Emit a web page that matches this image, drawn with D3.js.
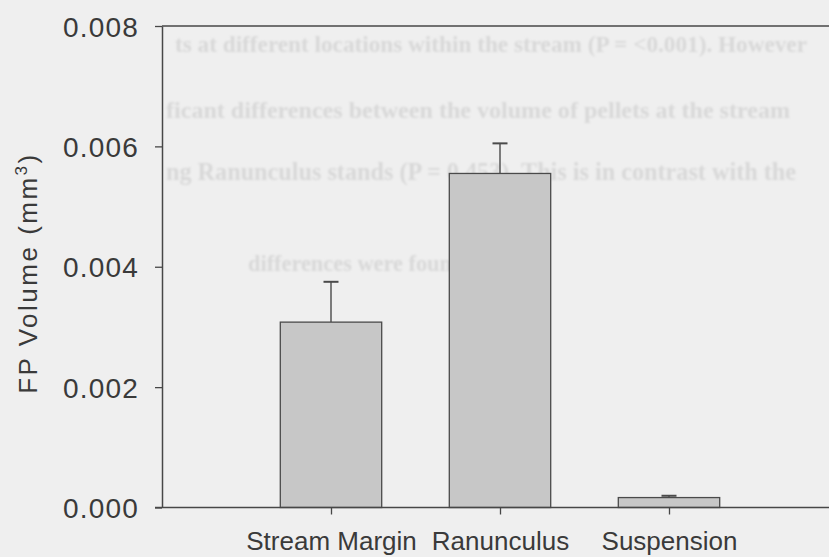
<!DOCTYPE html>
<html>
<head>
<meta charset="utf-8">
<script src="https://cdn.jsdelivr.net/npm/d3@7"></script>
<style>
  html, body { margin: 0; padding: 0; background: #efefef; }
  svg { display: block; }
</style>
</head>
<body>
<svg id="chart" width="829" height="557"></svg>
<script>
// Fecal pellet volume by habitat (mean + SE)
const categories = ["Stream Margin", "Ranunculus", "Suspension"];
const means = [0.00308, 0.00555, 0.000165];
const errors = [0.00067, 0.00050, 0.00003];
const yTicks = [0, 0.002, 0.004, 0.006, 0.008];
const yLabel = "FP Volume (mm";
// faint print showing through from the reverse side of the page
const backText = [
  "ts at different locations within the stream (P = <0.001). However",
  "ficant differences between the volume of pellets at the stream",
  "ng Ranunculus stands (P = 0.453). This is in contrast with the",
  "differences were found."
];

const svg = d3.select("#chart");
const W = 829, H = 557;

// soft edge for the show-through print
svg.append("defs").append("filter").attr("id", "soft")
  .append("feGaussianBlur").attr("stdDeviation", 0.9);

svg.append("rect").attr("width", W).attr("height", H).attr("fill", "#efefef");

const back = svg.append("g")
  .attr("font-family", "'Liberation Serif', 'DejaVu Serif', serif")
  .attr("font-weight", "bold")
  .attr("fill", "#d8d8d8")
  .attr("filter", "url(#soft)");
const backX = [175, 166, 166, 248];
const backY = [52, 118, 180, 271];
const backLen = [632, 624, 630, 222];
backText.forEach((t, i) => {
  const el = back.append("text")
    .attr("x", backX[i]).attr("y", backY[i])
    .attr("font-size", 25)
    .text(t);
  // shrink a line whose natural width runs past its span
  const natural = el.node().getComputedTextLength();
  if (natural > backLen[i]) el.attr("font-size", 25 * backLen[i] / natural);
  el.attr("textLength", backLen[i]).attr("lengthAdjust", "spacingAndGlyphs");
});

// category positions sit at 1, 2, 3 on a 0..4 axis
const x = d3.scaleLinear().domain([0, 4]).range([162, 838]);
const y = d3.scaleLinear().domain([0, 0.008]).range([507.5, 26]);
const barHalf = 0.3;

const axisColor = "#474747";
const textColor = "#3a3a3a";
const font = "'Liberation Sans', Arial, Helvetica, sans-serif";

// bars
svg.append("g").selectAll("rect")
  .data(means)
  .join("rect")
  .attr("x", (d, i) => x(i + 1 - barHalf))
  .attr("width", (d, i) => x(i + 1 + barHalf) - x(i + 1 - barHalf))
  .attr("y", d => y(d))
  .attr("height", d => y(0) - y(d))
  .attr("fill", "#c7c7c7")
  .attr("stroke", "#4a4a4a")
  .attr("stroke-width", 1.3);

// error bars (upper only)
const eb = svg.append("g").attr("stroke", "#4a4a4a").attr("stroke-width", 1.4);
means.forEach((m, i) => {
  const cx = x(i + 1);
  eb.append("line").attr("x1", cx).attr("x2", cx)
    .attr("y1", y(m)).attr("y2", y(m + errors[i]));
  eb.append("line").attr("x1", cx - 7.5).attr("x2", cx + 7.5)
    .attr("y1", y(m + errors[i])).attr("y2", y(m + errors[i]))
    .attr("stroke-width", 2);
});

// frame: top border line
svg.append("line")
  .attr("x1", x(0)).attr("x2", x(4))
  .attr("y1", y(0.008)).attr("y2", y(0.008))
  .attr("stroke", axisColor).attr("stroke-width", 1.5);

// y axis
const yAxis = d3.axisLeft(y)
  .tickValues(yTicks)
  .tickFormat(d3.format(".3f"))
  .tickSizeInner(7)
  .tickSizeOuter(0)
  .tickPadding(16);
const gy = svg.append("g").attr("transform", `translate(${x(0)},0)`).call(yAxis);
gy.select(".domain").attr("stroke", axisColor).attr("stroke-width", 1.5);
gy.selectAll(".tick line").attr("stroke", axisColor).attr("stroke-width", 1.3);
gy.selectAll(".tick text")
  .attr("font-family", font).attr("font-size", 28).attr("fill", textColor)
  .attr("letter-spacing", 1.2)
  .attr("dy", "0.36em");

// x axis
const xAxis = d3.axisBottom(x)
  .tickValues([1, 2, 3])
  .tickFormat(d => categories[d - 1])
  .tickSizeInner(7)
  .tickSizeOuter(0)
  .tickPadding(17);
const gx = svg.append("g").attr("transform", `translate(0,${y(0)})`).call(xAxis);
gx.select(".domain").attr("stroke", axisColor).attr("stroke-width", 1.5)
  .attr("d", `M${x(0) - 7},0H${x(4)}`);
gx.selectAll(".tick line").attr("stroke", axisColor).attr("stroke-width", 1.3);
gx.selectAll(".tick text")
  .attr("font-family", font).attr("font-size", 26).attr("fill", textColor)
  .attr("dy", "0.71em");

// y axis title with superscript
const yt = svg.append("text")
  .attr("transform", "translate(37,273) rotate(-90)")
  .attr("text-anchor", "middle")
  .attr("font-family", font).attr("font-size", 26).attr("fill", textColor)
  .attr("letter-spacing", 2.5);
yt.append("tspan").text(yLabel);
yt.append("tspan").attr("dy", -10).attr("font-size", 17).text("3");
yt.append("tspan").attr("dy", 10).text(")");
</script>
</body>
</html>
